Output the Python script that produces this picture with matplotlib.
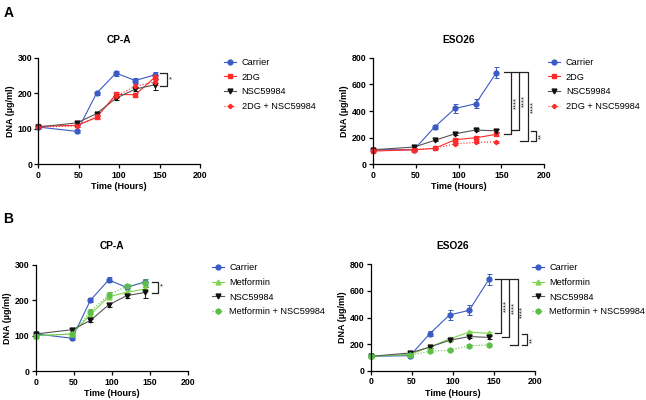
import matplotlib
matplotlib.use('Agg')
import matplotlib.pyplot as plt
from matplotlib.lines import Line2D

plt.rcParams['font.family'] = ['Liberation Sans', 'DejaVu Sans']

time = [0, 48, 72, 96, 120, 144]

# panel A, CP-A
cpa_carrier = [105, 93, 200, 257, 236, 252]
cpa_carrier_err = [4, 5, 5, 7, 6, 9]
cpa_2dg = [107, 110, 132, 197, 196, 245]
cpa_2dg_err = [3, 4, 5, 7, 6, 8]
cpa_nsc = [105, 117, 143, 186, 212, 224]
cpa_nsc_err = [3, 4, 4, 5, 6, 16]
cpa_2dgnsc = [105, 108, 135, 192, 220, 232]
cpa_2dgnsc_err = [3, 3, 4, 5, 6, 8]

# panel A, ESO26
eso_carrier = [110, 110, 280, 420, 455, 688]
eso_carrier_err = [5, 8, 18, 32, 35, 42]
eso_2dg = [100, 110, 120, 185, 200, 225]
eso_2dg_err = [4, 5, 6, 10, 10, 12]
eso_nsc = [110, 130, 180, 230, 258, 252]
eso_nsc_err = [4, 6, 6, 8, 8, 10]
eso_2dgnsc = [105, 110, 120, 155, 165, 170]
eso_2dgnsc_err = [4, 5, 6, 8, 8, 8]

# panel B, CP-A
cpb_carrier = [105, 93, 200, 257, 236, 252]
cpb_carrier_err = [4, 5, 5, 7, 6, 9]
cpb_met = [100, 105, 160, 210, 222, 232]
cpb_met_err = [3, 4, 8, 7, 6, 8]
cpb_nsc = [105, 117, 143, 187, 213, 222]
cpb_nsc_err = [3, 4, 4, 5, 6, 16]
cpb_metnsc = [100, 105, 168, 215, 240, 248]
cpb_metnsc_err = [3, 4, 8, 7, 6, 12]

# panel B, ESO26
esb_carrier = [110, 115, 280, 420, 455, 688]
esb_carrier_err = [5, 8, 20, 35, 38, 42]
esb_met = [110, 125, 180, 240, 292, 282]
esb_met_err = [4, 5, 6, 8, 10, 10]
esb_nsc = [110, 135, 180, 230, 258, 252]
esb_nsc_err = [4, 6, 6, 8, 12, 12]
esb_metnsc = [110, 120, 148, 155, 190, 195]
esb_metnsc_err = [4, 5, 6, 6, 8, 8]

blue = '#3b5bc4'
red = '#ff2a2a'
black = '#111111'
grey = '#555555'
lgreen = '#7fd44f'
green = '#5cbf47'


def series(ax, y, err, color, lcolor, marker, ms, ls, label):
    ax.errorbar(time, y, yerr=err, color=lcolor, ecolor=color, lw=0.8, ls=ls,
                marker=marker, ms=ms, mfc=color, mec=color, elinewidth=0.7,
                capsize=1.8, capthick=0.7, clip_on=False)
    return Line2D([], [], color=lcolor, lw=0.8, ls=ls, marker=marker, ms=ms,
                  mfc=color, mec=color, label=label)


def style(ax, title, ymax, ystep):
    ax.set_xlim(0, 200)
    ax.set_ylim(0, ymax)
    ax.set_xticks([0, 50, 100, 150, 200])
    ax.set_yticks(range(0, ymax + 1, ystep))
    ax.spines['top'].set_visible(False)
    ax.spines['right'].set_visible(False)
    for s in ('left', 'bottom'):
        ax.spines[s].set_linewidth(0.9)
    ax.tick_params(length=3, width=0.9, labelsize=6.3, pad=1.5)
    for lab in ax.get_xticklabels() + ax.get_yticklabels():
        lab.set_fontweight('bold')
    ax.set_title(title, fontsize=7.3, fontweight='bold', pad=11)
    ax.set_xlabel('Time (Hours)', fontsize=6.5, fontweight='bold', labelpad=2)
    ax.set_ylabel('DNA (\u00b5g/ml)', fontsize=6.5, fontweight='bold', labelpad=2)


def bracket(ax, x, y1, y2, arm, txt, rot=90, fs=5.5):
    ax.plot([x - arm, x, x, x - arm], [y1, y1, y2, y2], color='#222222',
            lw=0.9, clip_on=False)
    ax.text(x + 2.5, (y1 + y2) / 2, txt, rotation=rot, fontsize=fs,
            ha='left', va='center', color='#222222')


def legend(ax, handles, x, y):
    ax.legend(handles=handles, loc='upper left', bbox_to_anchor=(x, y),
              bbox_transform=ax.figure.transFigure, frameon=False,
              fontsize=6.6, handlelength=1.3, handletextpad=0.6,
              labelspacing=0.62, borderpad=0, borderaxespad=0)


fig = plt.figure(figsize=(6.46, 4.0), dpi=100)

ax1 = fig.add_axes([0.0593, 0.589, 0.2503, 0.2665])
h = [series(ax1, cpa_carrier, cpa_carrier_err, blue, blue, 'o', 3.5, '-', 'Carrier'),
     series(ax1, cpa_2dg, cpa_2dg_err, red, red, 's', 3.5, '-', '2DG'),
     series(ax1, cpa_nsc, cpa_nsc_err, black, grey, 'v', 3.5, '-', 'NSC59984'),
     series(ax1, cpa_2dgnsc, cpa_2dgnsc_err, red, red, 'P', 2.8, ':', '2DG + NSC59984')]
style(ax1, 'CP-A', 300, 100)
bracket(ax1, 159, 256, 221, 8, '*', rot=0, fs=5.5)
legend(ax1, h, 0.347, 0.855)

ax2 = fig.add_axes([0.577, 0.589, 0.2656, 0.2665])
h = [series(ax2, eso_carrier, eso_carrier_err, blue, blue, 'o', 3.5, '-', 'Carrier'),
     series(ax2, eso_2dg, eso_2dg_err, red, red, 's', 3.5, '-', '2DG'),
     series(ax2, eso_nsc, eso_nsc_err, black, grey, 'v', 3.5, '-', 'NSC59984'),
     series(ax2, eso_2dgnsc, eso_2dgnsc_err, red, red, 'P', 2.8, ':', '2DG + NSC59984')]
style(ax2, 'ESO26', 800, 200)
bracket(ax2, 161, 692, 227, 8, '****')
bracket(ax2, 171, 692, 257, 9, '****')
bracket(ax2, 181, 692, 177, 9, '****')
bracket(ax2, 190, 250, 177, 6, '**')
legend(ax2, h, 0.849, 0.855)

ax3 = fig.add_axes([0.0553, 0.0718, 0.2353, 0.2665])
h = [series(ax3, cpb_carrier, cpb_carrier_err, blue, blue, 'o', 3.5, '-', 'Carrier'),
     series(ax3, cpb_met, cpb_met_err, lgreen, lgreen, '^', 3.5, '-', 'Metformin'),
     series(ax3, cpb_nsc, cpb_nsc_err, black, grey, 'v', 3.5, '-', 'NSC59984'),
     series(ax3, cpb_metnsc, cpb_metnsc_err, green, green, 'h', 3.8, ':', 'Metformin + NSC59984')]
style(ax3, 'CP-A', 300, 100)
bracket(ax3, 161, 252, 221, 8, '*', rot=0, fs=5.5)
legend(ax3, h, 0.328, 0.342)

ax4 = fig.add_axes([0.5738, 0.0725, 0.2543, 0.2668])
h = [series(ax4, esb_carrier, esb_carrier_err, blue, blue, 'o', 3.5, '-', 'Carrier'),
     series(ax4, esb_met, esb_met_err, lgreen, lgreen, '^', 3.5, '-', 'Metformin'),
     series(ax4, esb_nsc, esb_nsc_err, black, grey, 'v', 3.5, '-', 'NSC59984'),
     series(ax4, esb_metnsc, esb_metnsc_err, green, green, 'h', 3.8, ':', 'Metformin + NSC59984')]
style(ax4, 'ESO26', 800, 200)
bracket(ax4, 159, 692, 287, 8, '****')
bracket(ax4, 169, 692, 257, 9, '****')
bracket(ax4, 179, 692, 195, 9, '****')
bracket(ax4, 190, 275, 195, 6, '**')
legend(ax4, h, 0.823, 0.342)

fig.text(0.005, 0.985, 'A', fontsize=10, fontweight='bold', va='top')
fig.text(0.005, 0.47, 'B', fontsize=10, fontweight='bold', va='top')

fig.savefig('out.png', dpi=100)
